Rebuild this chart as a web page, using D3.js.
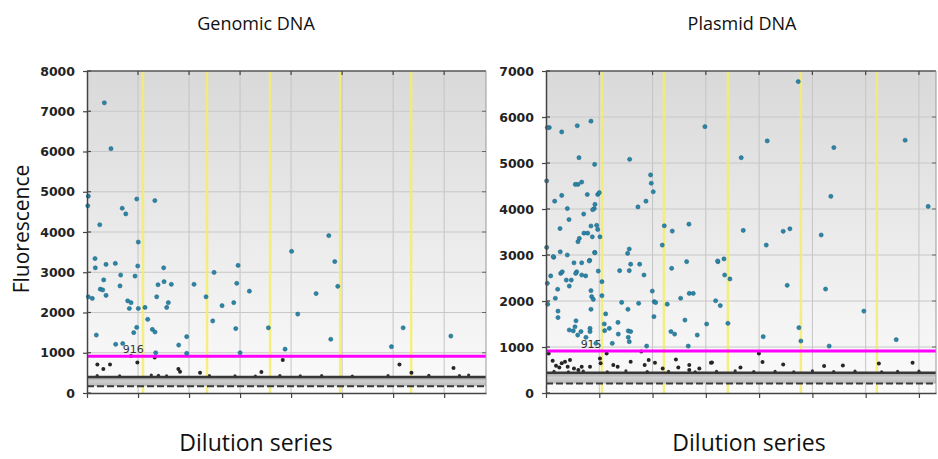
<!DOCTYPE html>
<html>
<head>
<meta charset="utf-8">
<script src="https://cdn.jsdelivr.net/npm/d3@7/dist/d3.min.js"></script>
<style>
  body { margin: 0; background: #fff; }
  svg { display: block; }
</style>
</head>
<body>
<div id="chart"></div>
<script>
// droplet data: [event number, fluorescence]
const genomicPositive = [
  [340, 7210], [470, 6070], [25, 4890], [15, 4650], [690, 4590], [760, 4450], [975, 4820],
  [1330, 4780], [250, 4180], [1005, 3750], [4010, 3520], [157, 3340], [163, 3110], [373, 3195],
  [555, 3220], [25, 2390], [104, 2350], [183, 1440], [327, 2810], [261, 2580], [308, 2560],
  [373, 2425], [660, 2930], [647, 2660], [797, 2290], [863, 2245], [830, 2100], [941, 2905],
  [994, 3155], [1006, 2100], [1137, 2125], [1190, 1830], [916, 1500], [974, 1630], [562, 1210],
  [700, 1230], [1281, 1580], [1333, 1515], [1366, 2390], [1392, 2690], [1503, 3110], [1510, 2765],
  [1594, 2245], [1562, 2125], [1653, 2700], [1346, 1000], [1797, 1190], [1954, 1400], [1954, 985],
  [2098, 2700], [2490, 2995], [2333, 2390], [2464, 1790], [2647, 2170], [2876, 2245], [2935, 2725],
  [2961, 3170], [2915, 1600], [3000, 1000], [3183, 2530], [3555, 1620], [3882, 1090], [4131, 1960],
  [4856, 3265], [4490, 2470], [4915, 2650], [4778, 1335], [5967, 1150], [6196, 1620], [7131, 1415],
  [4739, 3910]
];
const genomicNegative = [
  [203, 710], [320, 595], [451, 710], [987, 760], [863, 920], [1327, 885], [1791, 595],
  [1823, 530], [2216, 505], [3418, 520], [3837, 820], [6124, 710], [6359, 505], [7183, 620]
];
const genomicSpecks = [
  [200, 430], [640, 425], [1260, 445], [1400, 440], [1560, 425], [2400, 430], [2900, 425],
  [3300, 420], [3780, 435], [4180, 425], [4600, 430], [5200, 420], [5900, 430], [6700, 440],
  [7300, 430], [7480, 445]
];
const genomicWells = [1098, 2353, 3588, 4961, 6353];
const genomicThreshold = 916;
const genomicBand = [170, 400];
const genomicYTicks = [0, 1000, 2000, 3000, 4000, 5000, 6000, 7000, 8000];

const plasmidPositive = [
  [62, 5770], [25, 5770], [295, 5675], [587, 5810], [844, 5910], [619, 5115], [913, 4970],
  [12, 4610], [550, 4535], [600, 4535], [670, 4585], [295, 4295], [775, 4315], [970, 4315],
  [1000, 4355], [163, 4170], [400, 4010], [919, 4100], [906, 4010], [876, 3985], [432, 3770],
  [707, 3890], [263, 3575], [844, 3630], [951, 3645], [970, 3555], [713, 3475], [782, 3475],
  [869, 3395], [1013, 3395], [625, 3360], [600, 3290], [12, 3165], [268, 3070], [400, 3000],
  [145, 2950], [913, 3055], [820, 2885], [1570, 5080], [1726, 4045], [1876, 4170], [1963, 4740],
  [1976, 4560], [2013, 4375], [2220, 3635], [2370, 3520], [2683, 3670], [2182, 3215], [1532, 3035],
  [1563, 3130], [2983, 5790],
  [25, 2385], [32, 1930], [137, 2965], [88, 2545], [276, 2600], [306, 2635], [175, 2060],
  [219, 2255], [225, 1780], [225, 1640], [381, 2455], [475, 2455], [437, 2325], [525, 2830],
  [576, 2635], [557, 2600], [670, 2830], [670, 2565], [745, 2545], [812, 2870], [919, 3050],
  [981, 2650], [844, 2225], [857, 2095], [888, 2035], [844, 1820], [437, 1370], [512, 1350],
  [544, 1440], [563, 1570], [595, 1260], [657, 1335], [750, 1210], [826, 1405], [826, 1335],
  [938, 1080], [1050, 2420], [1050, 2115], [1120, 1720], [1094, 1500], [1101, 1355], [1188, 1405],
  [1244, 1080], [1420, 1970], [1351, 1535], [1357, 1280], [1538, 1820], [1544, 1350], [1544, 1210],
  [1589, 1335], [1563, 1115], [1382, 2660], [1563, 2660], [1589, 2800], [1739, 1950], [1839, 2565],
  [1758, 2800], [1995, 2215], [2032, 1985], [2058, 1965], [2026, 1660], [2276, 1930], [2358, 2710],
  [2345, 1335], [2414, 1280], [2640, 2855], [2608, 1585], [2527, 2060], [2689, 2165], [2764, 2165],
  [2670, 1020], [2839, 1260], [3015, 1500], [3184, 2005], [3227, 2855], [1889, 1020],
  [4734, 6770], [4152, 5480], [3664, 5115], [5403, 5335], [6741, 5495], [5347, 4275], [7173, 4055],
  [3702, 3535], [4452, 3515], [4578, 3570], [4134, 3215], [5165, 3435], [3340, 2915],
  [3221, 2870], [3353, 2565], [3452, 2480], [3271, 1900], [3415, 1515], [4077, 1225], [4527, 2340],
  [4747, 1420], [4784, 1130], [5247, 2260], [5315, 1020], [5966, 1780], [6573, 1160]
];
const plasmidNegative = [
  [125, 700], [188, 590], [250, 555], [295, 645], [357, 680], [450, 715], [407, 570], [525, 535],
  [607, 500], [670, 570], [826, 570], [1013, 750], [1025, 645], [1138, 860], [1263, 610], [1345, 570],
  [1589, 680], [1789, 900], [1852, 610], [1927, 715], [2045, 660], [2190, 535], [2439, 730],
  [2483, 555], [2689, 610], [2689, 500], [2878, 535], [3115, 665], [3096, 660], [3650, 555],
  [3996, 860], [4064, 675], [4452, 620], [5220, 585], [5572, 600], [6248, 640], [6880, 660], [50, 860]
];
const plasmidSpecks = [
  [150, 470], [420, 460], [700, 475], [1150, 460], [1500, 480], [1900, 465], [2300, 470],
  [2800, 460], [3200, 470], [3550, 480], [3900, 465], [4300, 470], [4650, 460], [5000, 480],
  [5400, 465], [5800, 475], [6300, 460], [6600, 470], [7000, 475]
];
const plasmidWells = [1051, 2214, 3415, 4784, 6210];
const plasmidThreshold = 915;
const plasmidBand = [205, 440];
const plasmidYTicks = [0, 1000, 2000, 3000, 4000, 5000, 6000, 7000];

const panels = [
  { title: "Genomic DNA", pos: genomicPositive, neg: genomicNegative, specks: genomicSpecks,
    wells: genomicWells, threshold: genomicThreshold, band: genomicBand, yTicks: genomicYTicks,
    x0: 87, x1: 486, xMax: 7820, labelX: 700, cx: 256, cxBottom: 256 },
  { title: "Plasmid DNA", pos: plasmidPositive, neg: plasmidNegative, specks: plasmidSpecks,
    wells: plasmidWells, threshold: plasmidThreshold, band: plasmidBand, yTicks: plasmidYTicks,
    x0: 546, x1: 936, xMax: 7320, labelX: 650, cx: 742, cxBottom: 749 }
];

const W = 938, H = 459, plotTop = 71, plotBottom = 393;

const svg = d3.select("#chart").append("svg")
  .attr("width", W).attr("height", H)
  .style("font-family", "'Open Sans', sans-serif");

const defs = svg.append("defs");
const grad = defs.append("linearGradient").attr("id", "bg")
  .attr("x1", 0).attr("y1", 0).attr("x2", 0).attr("y2", 1);
grad.append("stop").attr("offset", "0%").attr("stop-color", "#d9d9d9");
grad.append("stop").attr("offset", "100%").attr("stop-color", "#fbfbfb");

const bandGrad = defs.append("linearGradient").attr("id", "band")
  .attr("x1", 0).attr("y1", 0).attr("x2", 0).attr("y2", 1);
bandGrad.append("stop").attr("offset", "0%").attr("stop-color", "#a0a0a0");
bandGrad.append("stop").attr("offset", "45%").attr("stop-color", "#cfcfcf");
bandGrad.append("stop").attr("offset", "100%").attr("stop-color", "#b8b8b8");

panels.forEach(function (p) {
  const x = d3.scaleLinear().domain([0, p.xMax]).range([p.x0, p.x1]);
  const y = d3.scaleLinear().domain([0, d3.max(p.yTicks)]).range([plotBottom, plotTop]);
  const g = svg.append("g");
  const xt = d3.range(0, p.xMax, 1000);

  g.append("rect").attr("x", p.x0).attr("y", plotTop)
    .attr("width", p.x1 - p.x0).attr("height", plotBottom - plotTop)
    .attr("fill", "url(#bg)");

  // grid
  g.selectAll(".gx").data(xt.slice(1)).join("line")
    .attr("x1", d => x(d)).attr("x2", d => x(d)).attr("y1", plotTop).attr("y2", plotBottom)
    .attr("stroke", "#c4c4c4").attr("stroke-width", 1);
  g.selectAll(".gy").data(p.yTicks.slice(1, -1)).join("line")
    .attr("x1", p.x0).attr("x2", p.x1).attr("y1", d => y(d)).attr("y2", d => y(d))
    .attr("stroke", "#c8c8c8").attr("stroke-width", 1);

  // well boundaries
  g.selectAll(".well").data(p.wells).join("line")
    .attr("x1", d => x(d)).attr("x2", d => x(d)).attr("y1", plotTop).attr("y2", plotBottom)
    .attr("stroke", "#f4ee6a").attr("stroke-width", 2.5).attr("opacity", 0.85);

  // negative droplet cloud
  g.append("rect").attr("x", p.x0).attr("y", y(p.band[1]))
    .attr("width", p.x1 - p.x0).attr("height", y(p.band[0]) - y(p.band[1]))
    .attr("fill", "url(#band)");
  g.append("line").attr("x1", p.x0).attr("x2", p.x1)
    .attr("y1", y(p.band[1])).attr("y2", y(p.band[1]))
    .attr("stroke", "#383838").attr("stroke-width", 2.5);
  g.append("line").attr("x1", p.x0).attr("x2", p.x1)
    .attr("y1", y(p.band[0])).attr("y2", y(p.band[0]))
    .attr("stroke", "#3a3a3a").attr("stroke-width", 2).attr("stroke-dasharray", "7,3");
  g.selectAll(".speck").data(p.specks).join("circle")
    .attr("cx", d => x(d[0])).attr("cy", d => y(d[1])).attr("r", 1.6)
    .attr("fill", "#333");

  g.selectAll(".neg").data(p.neg).join("circle")
    .attr("cx", d => x(d[0])).attr("cy", d => y(d[1])).attr("r", 2)
    .attr("fill", "#262626");

  // threshold
  g.append("line").attr("x1", p.x0).attr("x2", p.x1)
    .attr("y1", y(p.threshold)).attr("y2", y(p.threshold))
    .attr("stroke", "#ff00ff").attr("stroke-width", 3);
  g.append("text").attr("x", x(p.labelX)).attr("y", y(p.threshold) - 3)
    .attr("font-size", 11).attr("fill", "#333")
    .attr("font-family", "'DejaVu Sans', sans-serif")
    .text(p.threshold);

  g.selectAll(".pos").data(p.pos).join("circle")
    .attr("cx", d => x(d[0])).attr("cy", d => y(d[1])).attr("r", 2.1)
    .attr("fill", "#2a86a8").attr("stroke", "#1d5f78").attr("stroke-width", 0.5);

  // frame
  g.append("line").attr("x1", p.x0).attr("x2", p.x1).attr("y1", plotTop).attr("y2", plotTop)
    .attr("stroke", "#555").attr("stroke-width", 1.5);
  g.append("line").attr("x1", p.x1).attr("x2", p.x1).attr("y1", plotTop).attr("y2", plotBottom)
    .attr("stroke", "#999").attr("stroke-width", 1);
  g.selectAll(".tt").data(xt.slice(1)).join("line")
    .attr("x1", d => x(d)).attr("x2", d => x(d)).attr("y1", plotTop).attr("y2", plotTop + 4)
    .attr("stroke", "#444").attr("stroke-width", 1.2);
  g.selectAll(".rt").data(p.yTicks.slice(1, -1)).join("line")
    .attr("x1", p.x1 - 4).attr("x2", p.x1).attr("y1", d => y(d)).attr("y2", d => y(d))
    .attr("stroke", "#666").attr("stroke-width", 1);
  g.selectAll(".it").data(p.yTicks).join("line")
    .attr("x1", p.x0).attr("x2", p.x0 + 4).attr("y1", d => y(d)).attr("y2", d => y(d))
    .attr("stroke", "#444").attr("stroke-width", 1.2);

  const xAxis = g.append("g").attr("transform", `translate(0,${plotBottom})`)
    .call(d3.axisBottom(x).tickValues(xt).tickFormat("").tickSize(5).tickSizeOuter(0));
  xAxis.select(".domain").attr("stroke", "#444").attr("stroke-width", 1.5);
  xAxis.selectAll(".tick line").attr("stroke", "#444").attr("stroke-width", 1.2);

  const yAxis = g.append("g").attr("transform", `translate(${p.x0},0)`)
    .call(d3.axisLeft(y).tickValues(p.yTicks).tickFormat(d3.format("d"))
      .tickSize(4).tickSizeOuter(0).tickPadding(8));
  yAxis.select(".domain").attr("stroke", "#444").attr("stroke-width", 1.5);
  yAxis.selectAll(".tick line").attr("stroke", "#444").attr("stroke-width", 1.2);
  yAxis.selectAll(".tick text")
    .attr("font-family", "'DejaVu Sans', sans-serif").attr("font-weight", "bold")
    .attr("font-size", 12.5).attr("fill", "#222");

  svg.append("text").attr("x", p.cx).attr("y", 30).attr("text-anchor", "middle")
    .attr("font-size", 18).attr("fill", "#111").text(p.title);
  svg.append("text").attr("x", p.cxBottom).attr("y", 451).attr("text-anchor", "middle")
    .attr("font-size", 23).attr("fill", "#111").text("Dilution series");
});

svg.append("text")
  .attr("transform", `translate(29,${(plotTop + plotBottom) / 2 - 3}) rotate(-90)`)
  .attr("text-anchor", "middle").attr("font-size", 21).attr("fill", "#111")
  .text("Fluorescence");
</script>
</body>
</html>
